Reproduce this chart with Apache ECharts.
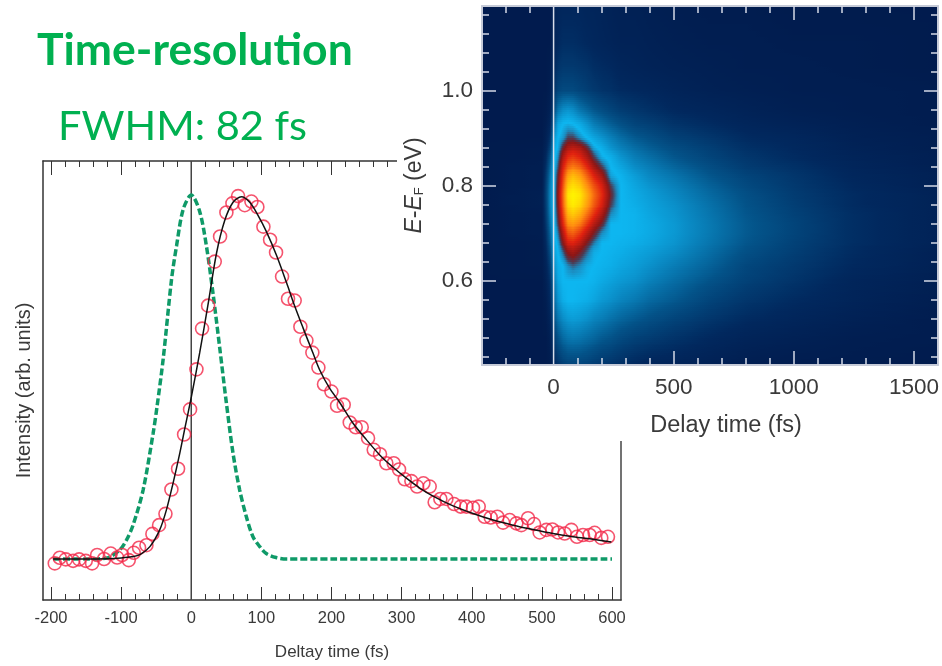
<!DOCTYPE html>
<html><head><meta charset="utf-8"><style>html,body{margin:0;padding:0;background:#fff}#c{width:942px;height:666px}</style>
<script src="https://cdn.jsdelivr.net/npm/echarts@6/dist/echarts.min.js"></script></head><body><div id="c"></div>
<script>
const pointTimes=[-194.6,-187.5,-178.9,-168.5,-159.9,-150.4,-141.4,-134.2,-124.3,-114.8,-105.7,-98.6,-89.1,-82,-74.4,-63.9,-55.4,-45.9,-36.8,-28.3,-18.8,-10.2,-1.7,7.4,15.4,24,33.5,41.1,50.1,58.7,66.8,76.3,85.8,94.3,102.9,112.4,120.9,129.5,138,147.5,155.6,164.2,172.7,181.3,189.3,199.9,207.9,217.4,226,234.5,243.1,252.1,260.2,269.2,278.2,288.7,296.3,304.4,313.9,322,331,340,347.1,355.2,363.8,374.7,384.2,392.3,401.8,409.9,418.4,427,436.5,444.6,454.1,463.6,470.7,480.2,488.8,496.8,506.3,514.9,523,532.5,542,550,558.6,568.1,575.2,584.7,594.2];
const pointValues=[-.012,.0035,-.001,-.005,-.001,-.005,-.012,.011,0,.015,.004,.011,-.003,.017,.031,.038,.069,.093,.124,.191,.248,.342,.411,.521,.633,.696,.817,.886,.952,.977,.997,.972,.982,.967,.913,.877,.842,.776,.715,.71,.638,.6,.567,.526,.48,.46,.421,.424,.375,.362,.362,.332,.3,.288,.263,.263,.246,.219,.214,.199,.208,.199,.156,.165,.165,.151,.144,.144,.141,.144,.116,.114,.116,.1,.107,.098,.093,.112,.096,.073,.08,.081,.073,.07,.08,.061,.066,.066,.072,.058,.061];
const fitTimes=[-197,-150,-120,-100,-85,-73,-59,-45,-35.4,-26,-16.4,-9,0.2,12,24,36,47.7,59.6,71.5,83.4,95,107,121.4,135.7,147.5,159.4,173.7,183,197,211.7,230.7,249.7,268.7,287.7,306.8,325.8,344.8,373.3,401.8,430.3,458.8,487.3,515.8,544.4,572.9,599];
const fitValues=[0,0,.001,.003,.006,.012,.034,.08,.135,.208,.29,.36,.446,.566,.7,.84,.93,.98,.995,.98,.945,.9,.835,.76,.695,.635,.565,.52,.47,.43,.373,.328,.286,.252,.222,.195,.173,.146,.125,.107,.093,.081,.07,.061,.054,.047];
const pulseTimes=[-197,-150,-120,-102,-92.4,-83,-68.6,-54.4,-48.7,-40,-28,-21,-11.6,0,12,21.6,31,40.6,50,59.6,69,78.6,88,97.7,107,121,135.7,200,300,400,500,600];
const pulseValues=[0,0,.003,.025,.052,.093,.19,.345,.42,.55,.77,.86,.96,1,.955,.86,.73,.58,.43,.29,.19,.116,.061,.034,.015,.004,0,0,0,0,0,0];
const lineMajor=[-200,-100,0,100,200,300,400,500,600];
const lineMinor=[-180,-160,-140,-120,-80,-60,-40,-20,20,40,60,80,120,140,160,180,220,240,260,280,320,340,360,380,420,440,460,480,520,540,560,580];
const heatXMajor=[500,1000,1500];
const heatXMinor=[-200,-100,100,200,300,400,600,700,800,900,1100,1200,1300,1400];
const heatXLabels=[0,500,1000,1500];
const heatYMajor=[.6,.8,1];
const heatYMinor=[.44,.48,.52,.56,.64,.68,.72,.76,.84,.88,.92,.96,1.04,1.08,1.12,1.16];
const heatTimes=[-298,-50,-30,-15,0,20,40,60,80,110,140,170,200,240,280,340,400,500,650,800,1000,1250,1600];
const heatEnergies=[1.178,1.1,1.05,1,.96,.93,.9,.88,.86,.84,.82,.8,.78,.76,.74,.72,.7,.68,.66,.63,.6,.56,.52,.48,.4225];
const heatValues=[
[1,1,1,1,5,8,9,9,9,9,8,8,7,6,5,5,4,3,2,2,1,1,1],
[1,1,1,1,7,10,12,12,12,11,10,9,8,7,6,6,5,4,3,3,2,2,1],
[1,1,1,2,10,14,16,16,16,15,14,12,11,10,8,7,6,5,4,3,3,2,1],
[1,1,1,3,14,20,22,22,22,20,18,16,14,13,11,10,9,7,5,4,3,3,2],
[1,1,2,5,22,34,40,42,40,34,30,26,23,20,17,15,13,10,8,6,4,3,2],
[1,1,3,8,32,46,50,51,50,47,42,36,32,28,24,20,18,14,11,8,6,4,2],
[1,1,5,13,42,50,53,58,58,54,50,46,42,37,32,27,24,19,15,11,9,5,3],
[1,2,7,18,46,51,60,66,68,66,60,52,48,42,37,32,28,23,18,13,10,6,3],
[1,2,10,24,48,54,66,73,75,72,66,58,51,48,42,36,32,26,20,15,11,7,4],
[1,3,13,29,49,57,71,80,83,80,73,65,58,50,46,40,36,30,23,17,13,8,4],
[1,3,16,33,50,60,75,88,92,88,80,72,65,52,49,44,39,34,26,20,15,9,5],
[1,3,18,36,50,62,78,94,97,94,86,78,71,58,50,46,42,37,29,22,16,10,5],
[1,4,19,37,50,63,80,98,100,98,90,81,73,60,50,47,44,39,31,24,17,11,6],
[1,4,18,37,50,62,79,96,99,96,88,79,71,58,50,48,45,41,33,25,18,11,6],
[1,3,17,35,50,60,76,91,94,90,82,74,66,54,50,49,46,42,34,26,19,12,6],
[1,3,15,32,49,58,72,85,87,83,75,67,60,50,50,49,47,43,35,27,20,12,6],
[1,3,13,29,48,55,67,78,80,75,68,61,54,50,50,49,47,43,35,27,20,12,6],
[1,2,11,26,46,52,62,71,72,68,61,55,50,50,49,48,46,42,34,26,19,12,6],
[1,2,9,22,44,50,56,63,65,61,56,51,50,49,48,46,44,40,32,24,18,11,5],
[1,2,7,17,40,48,50,54,56,54,51,50,49,48,46,44,41,36,29,21,16,10,5],
[1,1,5,13,35,46,50,50,50,50,50,49,47,45,43,41,37,32,25,19,14,8,4],
[1,1,3,10,30,42,48,50,50,49,48,46,43,41,38,35,31,27,20,15,11,7,3],
[1,1,2,7,24,34,40,43,44,43,41,38,36,33,30,27,24,20,15,11,8,5,2],
[1,1,1,4,17,25,31,34,35,34,32,30,27,25,22,19,17,14,10,7,5,3,2],
[1,1,1,2,9,14,18,20,20,20,19,17,15,14,12,10,8,7,5,3,2,2,1]];
const heatStops=[[0,'#011a4c'],[10,'#01285e'],[25,'#035288'],[40,'#0a8cc6'],[50,'#0db6f0'],[54,'#1b8cc0'],[58,'#4d3a52'],[62,'#8a1616'],[72,'#e0200f'],[85,'#ff8c10'],[100,'#fff400']];

function heatColor(v){
  for(let k=1;k<heatStops.length;k++){
    if(v<=heatStops[k][0]){
      const a=heatStops[k-1],b=heatStops[k];
      return echarts.color.lerp((v-a[0])/(b[0]-a[0]),[a[1],b[1]]);
    }
  }
  return heatStops[heatStops.length-1][1];
}
const cells=[];
for(let j=0;j<heatEnergies.length-1;j++)for(let i=0;i<heatTimes.length-1;i++)
  cells.push([heatTimes[i],heatEnergies[j],heatTimes[i+1],heatEnergies[j+1],j,i]);
function renderCell(p,api){
  const a=api.coord([api.value(0),api.value(1)]),b=api.coord([api.value(2),api.value(3)]);
  const j=api.value(4),i=api.value(5),strips=[],n=Math.max(1,Math.round(Math.abs(b[1]-a[1])/2)),m=6;
  const x0=Math.round(a[0]),x1=Math.round(b[0]);
  for(let k=0;k<n;k++){
    const y0=Math.round(a[1]+(b[1]-a[1])*k/n),y1=Math.round(a[1]+(b[1]-a[1])*(k+1)/n),f=(k+.5)/n;
    const l=heatValues[j][i]*(1-f)+heatValues[j+1][i]*f,r=heatValues[j][i+1]*(1-f)+heatValues[j+1][i+1]*f,st=[];
    for(let q=0;q<=m;q++)st.push({offset:q/m,color:heatColor(l+(r-l)*q/m)});
    strips.push({type:'rect',shape:{x:x0,y:y0,width:x1-x0,height:y1-y0},style:{fill:new echarts.graphic.LinearGradient(0,0,1,0,st)}});
  }
  return {type:'group',children:strips};
}
const TXT='#3a3a3a',FONT='"Liberation Sans",Arial,sans-serif',HT='#d4d9e6';
function ax(o){
  return Object.assign({type:'value',scale:true,splitLine:{show:false},axisLabel:{show:false},axisTick:{show:false},axisLine:{show:false,onZero:false},silent:true},o);
}
function tickAxis(gridIndex,position,min,max,values,len,color,w,z){
  return ax({gridIndex,position,min,max,z,axisTick:{show:true,inside:true,length:len,customValues:values,lineStyle:{color,width:w}}});
}
const LX=[-211.4,612.8],LY=[-.1126,1.0934],HX=[-298,1600],HY=[.4225,1.178];
const xAxis=[
 ax({gridIndex:0,position:'bottom',min:LX[0],max:LX[1],z:1,
   axisLine:{show:true,onZero:false,lineStyle:{color:'#333',width:1.5}},
   axisTick:{show:true,inside:true,length:13,customValues:lineMajor,lineStyle:{color:'#333',width:1}},
   axisLabel:{show:true,customValues:lineMajor,margin:10,fontSize:16.5,color:TXT,fontFamily:FONT,formatter:v=>String(v)},
   name:'Deltay time (fs)',nameLocation:'middle',nameGap:44,nameMoveOverlap:false,nameTextStyle:{fontSize:17,color:TXT,fontFamily:FONT}}),
 tickAxis(0,'bottom',LX[0],LX[1],lineMinor,6,'#333',1,1),
 ax({gridIndex:0,position:'top',min:LX[0],max:LX[1],z:1,
   axisLine:{show:true,onZero:false,lineStyle:{color:'#333',width:1.5}},
   axisTick:{show:true,inside:true,length:14,customValues:lineMajor,lineStyle:{color:'#333',width:1}}}),
 tickAxis(0,'top',LX[0],LX[1],lineMinor,6,'#333',1,1),
 ax({gridIndex:1,position:'bottom',min:HX[0],max:HX[1],z:10,
   axisLine:{show:true,onZero:false,lineStyle:{color:'#c6cbd8',width:2}},
   axisTick:{show:true,inside:true,length:14,customValues:heatXMajor,lineStyle:{color:HT,width:1.5}},
   axisLabel:{show:true,customValues:heatXLabels,margin:11,fontSize:22.5,color:TXT,fontFamily:FONT,formatter:v=>String(v)},
   name:'Delay time (fs)',nameLocation:'middle',nameGap:49,nameMoveOverlap:false,nameTextStyle:{fontSize:23.5,color:TXT,fontFamily:FONT,padding:[0,0,0,32]}}),
 tickAxis(1,'bottom',HX[0],HX[1],heatXMinor,7,HT,1.5,10),
 ax({gridIndex:1,position:'top',min:HX[0],max:HX[1],z:10,
   axisLine:{show:true,onZero:false,lineStyle:{color:'#c6cbd8',width:2}},
   axisTick:{show:true,inside:true,length:14,customValues:heatXMajor,lineStyle:{color:HT,width:1.5}}}),
 tickAxis(1,'top',HX[0],HX[1],heatXMinor,7,HT,1.5,10)
];
const yAxis=[
 ax({gridIndex:0,position:'left',min:LY[0],max:LY[1],z:1,
   axisLine:{show:true,onZero:false,lineStyle:{color:'#333',width:1.5}},
   name:'Intensity (arb. units)',nameLocation:'middle',nameGap:9,nameRotate:90,nameMoveOverlap:false,nameTextStyle:{fontSize:20,color:TXT,fontFamily:FONT,padding:[0,20,0,0]}}),
 ax({gridIndex:0,position:'right',min:LY[0],max:LY[1],z:1,
   axisLine:{show:true,onZero:false,lineStyle:{color:'#444',width:1.5}}}),
 ax({gridIndex:1,position:'left',min:HY[0],max:HY[1],z:10,
   axisLine:{show:true,onZero:false,lineStyle:{color:'#c6cbd8',width:2}},
   axisTick:{show:true,inside:true,length:14,customValues:heatYMajor,lineStyle:{color:HT,width:1.5}},
   axisLabel:{show:true,customValues:heatYMajor,margin:9,fontSize:22.5,color:TXT,fontFamily:FONT,formatter:v=>v.toFixed(1)},
   name:'{i|E}{n|-}{i|E}{s|F}{n| (eV)}',nameLocation:'middle',nameGap:56,nameRotate:90,nameMoveOverlap:false,
   nameTextStyle:{fontSize:23,color:TXT,fontFamily:FONT,
     rich:{i:{fontStyle:'italic',fontSize:23,color:TXT,fontFamily:FONT},n:{fontSize:23,color:TXT,fontFamily:FONT},s:{fontSize:13,color:TXT,fontFamily:FONT,verticalAlign:'bottom'}}}}),
 tickAxis(1,'left',HY[0],HY[1],heatYMinor,7,HT,1.5,10),
 ax({gridIndex:1,position:'right',min:HY[0],max:HY[1],z:10,
   axisLine:{show:true,onZero:false,lineStyle:{color:'#c6cbd8',width:2}},
   axisTick:{show:true,inside:true,length:14,customValues:heatYMajor,lineStyle:{color:HT,width:1.5}}}),
 tickAxis(1,'right',HY[0],HY[1],heatYMinor,7,HT,1.5,10)
];
const zip=(a,b)=>a.map((v,i)=>[v,b[i]]);
const option={
 animation:false,backgroundColor:'#fff',
 title:[
  {text:'Time-resolution',left:32,top:23,textStyle:{fontFamily:'Lato',fontWeight:'bold',fontSize:44.5,color:'#00b050'}},
  {text:'FWHM: 82 fs',left:53,top:101,textStyle:{fontFamily:'Lato',fontWeight:'normal',fontSize:41.5,color:'#00b050'}}
 ],
 grid:[{left:43,top:161,width:578,height:439},{left:482,top:6,width:458,height:359}],
 xAxis,yAxis,
 graphic:{elements:[{type:'rect',silent:true,z:5,shape:{x:397,y:140,width:545,height:301},style:{fill:'#fff'}}]},
 series:[
  {type:'line',name:'Time zero',xAxisIndex:0,yAxisIndex:0,z:2,data:[[0,LY[0]],[0,LY[1]]],symbol:'none',lineStyle:{color:'#444',width:1.5},silent:true},
  {type:'line',name:'Pulse',xAxisIndex:0,yAxisIndex:0,z:3,data:zip(pulseTimes,pulseValues),smooth:.3,symbol:'none',lineStyle:{color:'#0f9a68',width:3.5,type:[7,3]},silent:true},
  {type:'scatter',name:'Data',xAxisIndex:0,yAxisIndex:0,z:3,data:zip(pointTimes,pointValues),symbol:'circle',symbolSize:13,itemStyle:{color:'rgba(0,0,0,0)',borderColor:'#f22848',borderWidth:1.6},silent:true},
  {type:'line',name:'Fit',xAxisIndex:0,yAxisIndex:0,z:4,data:zip(fitTimes,fitValues),smooth:.3,symbol:'none',lineStyle:{color:'#111',width:1.5},silent:true},
  {type:'custom',name:'Map',xAxisIndex:4,yAxisIndex:2,z:8,data:cells,encode:{x:[0,2],y:[1,3]},renderItem:renderCell,silent:true,clip:true},
  {type:'line',name:'Map zero',xAxisIndex:4,yAxisIndex:2,z:9,data:[[0,HY[0]],[0,HY[1]]],symbol:'none',lineStyle:{color:'#d8deea',width:1.5},silent:true}
 ]
};
echarts.init(document.getElementById('c'),null,{renderer:'canvas'}).setOption(option);
</script></body></html>
